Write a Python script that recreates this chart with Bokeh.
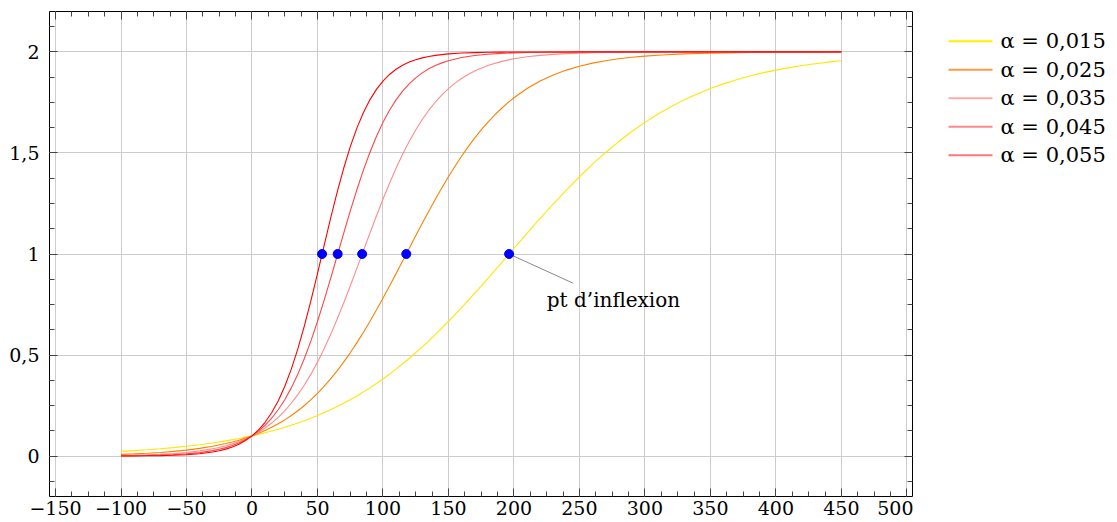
import numpy as np
from bokeh.plotting import figure
from bokeh.layouts import row
from bokeh.models import FixedTicker, LinearAxis, Range1d
from bokeh.core.properties import value
from bokeh.embed import file_html
from bokeh.resources import INLINE

# ---- data ----
x_a015 = [-100, -90, -80, -70, -60, -50, -40, -30, -20, -10, 0,
          10, 20, 30, 40, 50, 60, 70, 80, 90, 100,
          110, 120, 130, 140, 150, 160, 170, 180, 190, 200,
          210, 220, 230, 240, 250, 260, 270, 280, 290, 300,
          310, 320, 330, 340, 350, 360, 370, 380, 390, 400,
          410, 420, 430, 440, 450]
y_a015 = [0.0232, 0.0269, 0.0312, 0.0362, 0.0419, 0.0485, 0.0561, 0.0649, 0.0751, 0.0867, 0.1000,
          0.1153, 0.1327, 0.1525, 0.1750, 0.2005, 0.2292, 0.2615, 0.2975, 0.3375, 0.3817,
          0.4302, 0.4830, 0.5401, 0.6012, 0.6660, 0.7342, 0.8052, 0.8783, 0.9528, 1.0277,
          1.1024, 1.1759, 1.2474, 1.3165, 1.3823, 1.4444, 1.5025, 1.5564, 1.6060, 1.6514,
          1.6925, 1.7295, 1.7627, 1.7923, 1.8187, 1.8419, 1.8624, 1.8804, 1.8963, 1.9100,
          1.9221, 1.9326, 1.9417, 1.9497, 1.9566]

x_a025 = [-100, -90, -80, -70, -60, -50, -40, -30, -20,
          -15, -10, -5, 0, 5, 10, 15, 20, 25, 30, 35, 40, 45, 50, 55, 60, 65, 70, 75, 80,
          85, 90, 95, 100, 105, 110, 115, 120, 125, 130, 135, 140, 145, 150, 155, 160,
          165, 170, 175, 180, 185, 190, 195,
          200, 210, 220, 230, 240, 250, 260, 270, 280, 290, 300, 310, 320, 330, 340, 350,
          360, 370, 380, 390, 400, 410, 420, 430, 440, 450]
y_a025 = [0.0086, 0.0110, 0.0141, 0.0181, 0.0232, 0.0297, 0.0380, 0.0485, 0.0619,
          0.0698, 0.0787, 0.0888, 0.1000, 0.1126, 0.1266, 0.1423, 0.1597, 0.1790, 0.2005, 0.2242,
          0.2503, 0.2790, 0.3104, 0.3446, 0.3817, 0.4218, 0.4649, 0.5110, 0.5600,
          0.6118, 0.6660, 0.7227, 0.7813, 0.8415, 0.9029, 0.9652, 1.0277, 1.0900, 1.1516,
          1.2120, 1.2708, 1.3277, 1.3823, 1.4343, 1.4837,
          1.5301, 1.5736, 1.6139, 1.6514, 1.6859, 1.7176, 1.7466,
          1.7730, 1.8187, 1.8558, 1.8859, 1.9100, 1.9292, 1.9444, 1.9566, 1.9660, 1.9734,
          1.9792, 1.9838, 1.9874, 1.9901, 1.9923, 1.9940,
          1.9953, 1.9964, 1.9972, 1.9978, 1.9983, 1.9987, 1.9990, 1.9992, 1.9994, 1.9995]

x_a035 = [-100, -90, -80, -70, -60, -50, -40, -30,
          -25, -20, -15, -10, -5, 0, 5, 10, 15, 20, 25, 30, 35, 40, 45, 50, 55, 60, 65,
          70, 75, 80, 85, 90, 95, 100, 105, 110, 115, 120, 125, 130, 135, 140, 145, 150,
          155, 160, 165,
          170, 180, 190, 200, 210, 220, 230, 240, 250, 260, 270, 280, 290, 300, 310, 320,
          330, 340, 350, 360, 370, 380, 390, 400, 410, 420, 430, 440, 450]
y_a035 = [0.0032, 0.0045, 0.0064, 0.0091, 0.0128, 0.0181, 0.0256, 0.0362,
          0.0429, 0.0509, 0.0604, 0.0715, 0.0846, 0.1000, 0.1180, 0.1390, 0.1634, 0.1917,
          0.2242, 0.2615, 0.3039, 0.3518, 0.4054, 0.4649, 0.5302, 0.6012, 0.6772,
          0.7576, 0.8415, 0.9279, 1.0152, 1.1024, 1.1879, 1.2708, 1.3498, 1.4242, 1.4932,
          1.5564, 1.6139, 1.6656, 1.7115, 1.7521, 1.7876, 1.8187,
          1.8455, 1.8687, 1.8886,
          1.9057, 1.9326, 1.9520, 1.9660, 1.9759, 1.9829, 1.9879, 1.9915, 1.9940, 1.9958,
          1.9970, 1.9979, 1.9985, 1.9990, 1.9993, 1.9995,
          1.9996, 1.9997, 1.9998, 1.9999, 1.9999, 1.9999, 2.0000, 2.0000, 2.0000, 2.0000,
          2.0000, 2.0000, 2.0000]

x_a045 = [-100, -90, -80, -70, -60, -50, -40, -30,
          -25, -20, -15, -10, -5, 0, 5, 10, 15, 20, 25, 30, 35, 40, 45, 50, 55, 60, 65,
          70, 75, 80, 85, 90, 95, 100, 105, 110, 115, 120, 125, 130, 135, 140, 145,
          150, 160, 170, 180, 190, 200, 210, 220, 230, 240, 250, 260, 270, 280, 290, 300,
          310, 320, 330, 340, 350, 360, 370, 380, 390, 400, 410, 420, 430, 440, 450]
y_a045 = [0.0012, 0.0018, 0.0029, 0.0045, 0.0070, 0.0110, 0.0172, 0.0269,
          0.0336, 0.0419, 0.0522, 0.0649, 0.0807, 0.1000, 0.1237, 0.1525, 0.1874, 0.2292,
          0.2790, 0.3375, 0.4054, 0.4830, 0.5701, 0.6660, 0.7694, 0.8783, 0.9902,
          1.1024, 1.2120, 1.3165, 1.4138, 1.5025, 1.5818, 1.6514, 1.7115, 1.7627, 1.8059,
          1.8419, 1.8718, 1.8963, 1.9163, 1.9326, 1.9458,
          1.9566, 1.9720, 1.9821, 1.9885, 1.9927, 1.9953, 1.9970, 1.9981, 1.9988, 1.9992,
          1.9995, 1.9997, 1.9998, 1.9999, 1.9999, 2.0000,
          2.0000, 2.0000, 2.0000, 2.0000, 2.0000, 2.0000, 2.0000, 2.0000, 2.0000, 2.0000,
          2.0000, 2.0000, 2.0000, 2.0000, 2.0000]

x_a055 = [-100, -90, -80, -70, -60, -50, -40, -30,
          -25, -20, -15, -10, -5, 0, 5, 10, 15, 20, 25, 30, 35, 40, 45, 50, 55, 60, 65,
          70, 75, 80, 85, 90, 95, 100, 105, 110, 115, 120, 125, 130, 135,
          140, 150, 160, 170, 180, 190, 200, 210, 220, 230, 240, 250, 260, 270, 280, 290,
          300, 310, 320, 330, 340, 350, 360, 370, 380, 390, 400, 410, 420, 430, 440, 450]
y_a055 = [0.0004, 0.0007, 0.0013, 0.0022, 0.0039, 0.0067, 0.0116, 0.0200,
          0.0263, 0.0344, 0.0451, 0.0589, 0.0769, 0.1000, 0.1296, 0.1672, 0.2145, 0.2730,
          0.3446, 0.4302, 0.5302, 0.6441, 0.7695, 0.9031, 1.0402, 1.1760, 1.3052,
          1.4242, 1.5301, 1.6217, 1.6989, 1.7627, 1.8145, 1.8558, 1.8885, 1.9142, 1.9342,
          1.9497, 1.9616, 1.9706, 1.9776,
          1.9829, 1.9901, 1.9943, 1.9967, 1.9981, 1.9989, 1.9994, 1.9996, 1.9998, 1.9999,
          1.9999, 2.0000, 2.0000, 2.0000, 2.0000, 2.0000,
          2.0000, 2.0000, 2.0000, 2.0000, 2.0000, 2.0000, 2.0000, 2.0000, 2.0000, 2.0000,
          2.0000, 2.0000, 2.0000, 2.0000, 2.0000, 2.0000]

series_x = [x_a015, x_a025, x_a035, x_a045, x_a055]
series_y = [y_a015, y_a025, y_a035, y_a045, y_a055]
series_labels = ["α = 0,015", "α = 0,025", "α = 0,035", "α = 0,045", "α = 0,055"]
line_colors = ["#ffe600", "#ff8000", "#ff8c8c", "#ff4545", "#ff0000"]
legend_colors = ["#fff000", "#ff9a40", "#ffaaaa", "#ff8888", "#ff7676"]

infl_x = [196.3, 117.8, 84.1, 65.4, 53.5]
infl_y = [1, 1, 1, 1, 1]

annot_text = ["pt d’inflexion"]
annot_text_x = [276]
annot_text_y = [0.772]
annot_line_x = [196.3, 245]
annot_line_y = [1.0, 0.856]

x_ticks = [-150, -100, -50, 0, 50, 100, 150, 200, 250, 300, 350, 400, 450, 500]
y_ticks = [0, 0.5, 1, 1.5, 2]
x_tick_labels = {t: (str(t).replace("-", "−")) for t in x_ticks}
y_tick_labels = {0: "0", 0.5: "0,5", 1: "1", 1.5: "1,5", 2: "2"}

for xs, ys in zip(series_x, series_y):
    assert len(xs) == len(ys), (len(xs), len(ys))

# ---- main figure ----
FONT = "DejaVu Serif"
p = figure(width=913, height=522, output_backend="svg", toolbar_location=None,
           x_range=Range1d(-154.6, 504.3), y_range=Range1d(-0.2, 2.2),
           min_border_left=49, min_border_right=1, min_border_top=11, min_border_bottom=26)
p.background_fill_color = "white"
p.border_fill_color = "white"
p.outline_line_color = "black"
p.outline_line_width = 1

x_minor = list(np.arange(-150, 500.01, 12.5))
y_minor = list(np.arange(-0.125, 2.2, 0.125))


def style_axis(ax, ticks, minor, overrides, show_labels):
    ax.ticker = FixedTicker(ticks=ticks, minor_ticks=minor)
    ax.major_tick_in = 8
    ax.major_tick_out = 0
    ax.minor_tick_in = 5
    ax.minor_tick_out = 0
    ax.major_tick_line_color = "#444444"
    ax.minor_tick_line_color = "#444444"
    ax.axis_line_color = None
    ax.major_label_text_font = FONT
    ax.major_label_text_font_size = "19px"
    ax.major_label_text_color = "black"
    if show_labels:
        ax.major_label_overrides = overrides
    else:
        ax.major_label_overrides = {t: "" for t in ticks}
        ax.major_label_standoff = 0


style_axis(p.xaxis[0], x_ticks, x_minor, x_tick_labels, True)
p.xaxis[0].major_label_standoff = 4
style_axis(p.yaxis[0], y_ticks, y_minor, y_tick_labels, True)
p.yaxis[0].major_label_standoff = 10

top_ax = LinearAxis()
style_axis(top_ax, x_ticks, x_minor, {}, False)
p.add_layout(top_ax, "above")
right_ax = LinearAxis()
style_axis(right_ax, y_ticks, y_minor, {}, False)
p.add_layout(right_ax, "right")

p.xgrid.ticker = FixedTicker(ticks=x_ticks)
p.ygrid.ticker = FixedTicker(ticks=y_ticks)
p.xgrid.grid_line_color = "#cccccc"
p.ygrid.grid_line_color = "#cccccc"

# curves
for xs, ys, c in zip(series_x, series_y, line_colors):
    p.line(xs, ys, line_color=c, line_width=1.1)

# annotation
p.line(annot_line_x, annot_line_y, line_color="#888888", line_width=1)
p.text(x=annot_text_x, y=annot_text_y, text=annot_text, text_font=value(FONT),
       text_font_size="20px", text_align="center", text_baseline="middle", text_color="black")

# inflection points
p.scatter(infl_x, infl_y, size=9, fill_color="#0000ff", line_color="#0000ff")

# ---- legend panel (pixel coordinates) ----
leg = figure(width=204, height=522, output_backend="svg", toolbar_location=None,
             x_range=Range1d(0, 204), y_range=Range1d(522, 0),
             x_axis_type=None, y_axis_type=None, min_border=0)
leg.outline_line_color = None
leg.background_fill_color = "white"
leg.border_fill_color = "white"
leg.grid.grid_line_color = None
row_y = [32, 62.7, 93.4, 124.1, 154.8]
leg.segment(x0=[35] * 5, x1=[79] * 5, y0=row_y, y1=row_y, line_color=legend_colors, line_width=2)
leg.text(x=[87] * 5, y=row_y, text=series_labels, text_font=value(FONT), text_font_size="21px",
         text_align="left", text_baseline="middle", text_color="black")

layout = row(p, leg)
open("out.html", "w").write(file_html(layout, INLINE))
